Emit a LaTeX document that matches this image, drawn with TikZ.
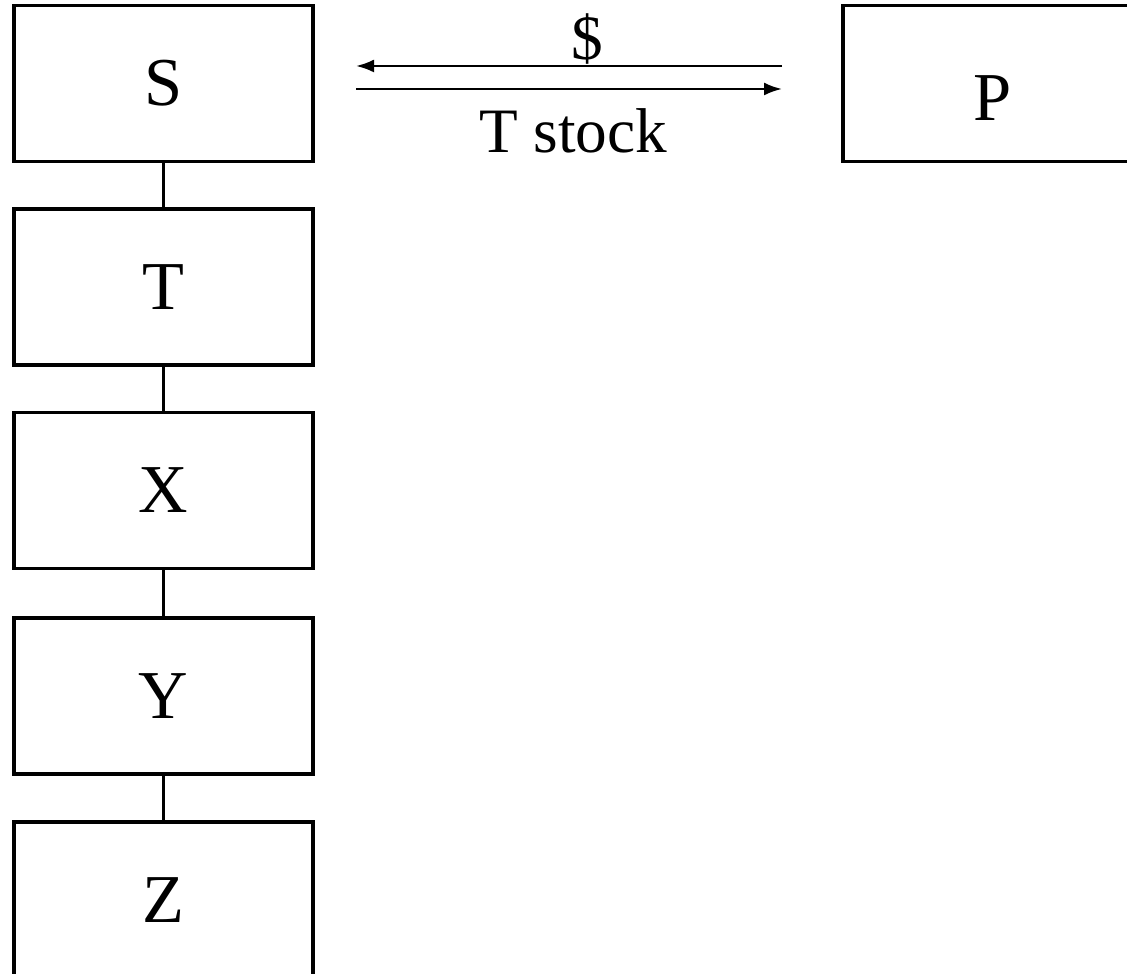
\documentclass[tikz,border=0pt]{standalone}
\usepackage{fontspec}
\setmainfont{Liberation Serif}
\usetikzlibrary{arrows.meta,positioning}

\begin{document}
\begin{tikzpicture}[
  firm/.style={draw=black,line width=1.1pt,minimum width=2.99cm,minimum height=1.56cm,inner sep=0pt,font=\fontsize{19.5}{22}\selectfont},
  flow/.style={-{Latex[length=1.8mm,width=1.3mm]},line width=0.7pt},
  tag/.style={inner sep=0pt,font=\fontsize{18}{21}\selectfont},
  link/.style={line width=0.9pt}
]
\useasboundingbox (0,0) rectangle (11.27,-9.74);
\node[firm] (s) at (1.635,-0.835) {S};
\node[firm] (t) at (1.635,-2.87) {T};
\node[firm] (x) at (1.635,-4.905) {X};
\node[firm] (y) at (1.635,-6.96) {Y};
\node[firm] (z) at (1.635,-9.0) {Z};
\node[firm,text height=0.75cm] (p) at (9.925,-0.835) {P};
\coordinate (pl) at (7.82,-0.66);
\coordinate (sl) at (3.56,-0.66);
\coordinate (sr) at (3.56,-0.89);
\coordinate (pr) at (7.82,-0.89);
\draw[flow] (pl) -- (sl);
\draw[flow] (sr) -- (pr);
\node[tag] (cash) at (5.87,-0.39) {\$};
\node[tag] (stock) at (5.73,-1.31) {T stock};
\draw[link] (s) -- (t);
\draw[link] (t) -- (x);
\draw[link] (x) -- (y);
\draw[link] (y) -- (z);
\end{tikzpicture}
\end{document}
